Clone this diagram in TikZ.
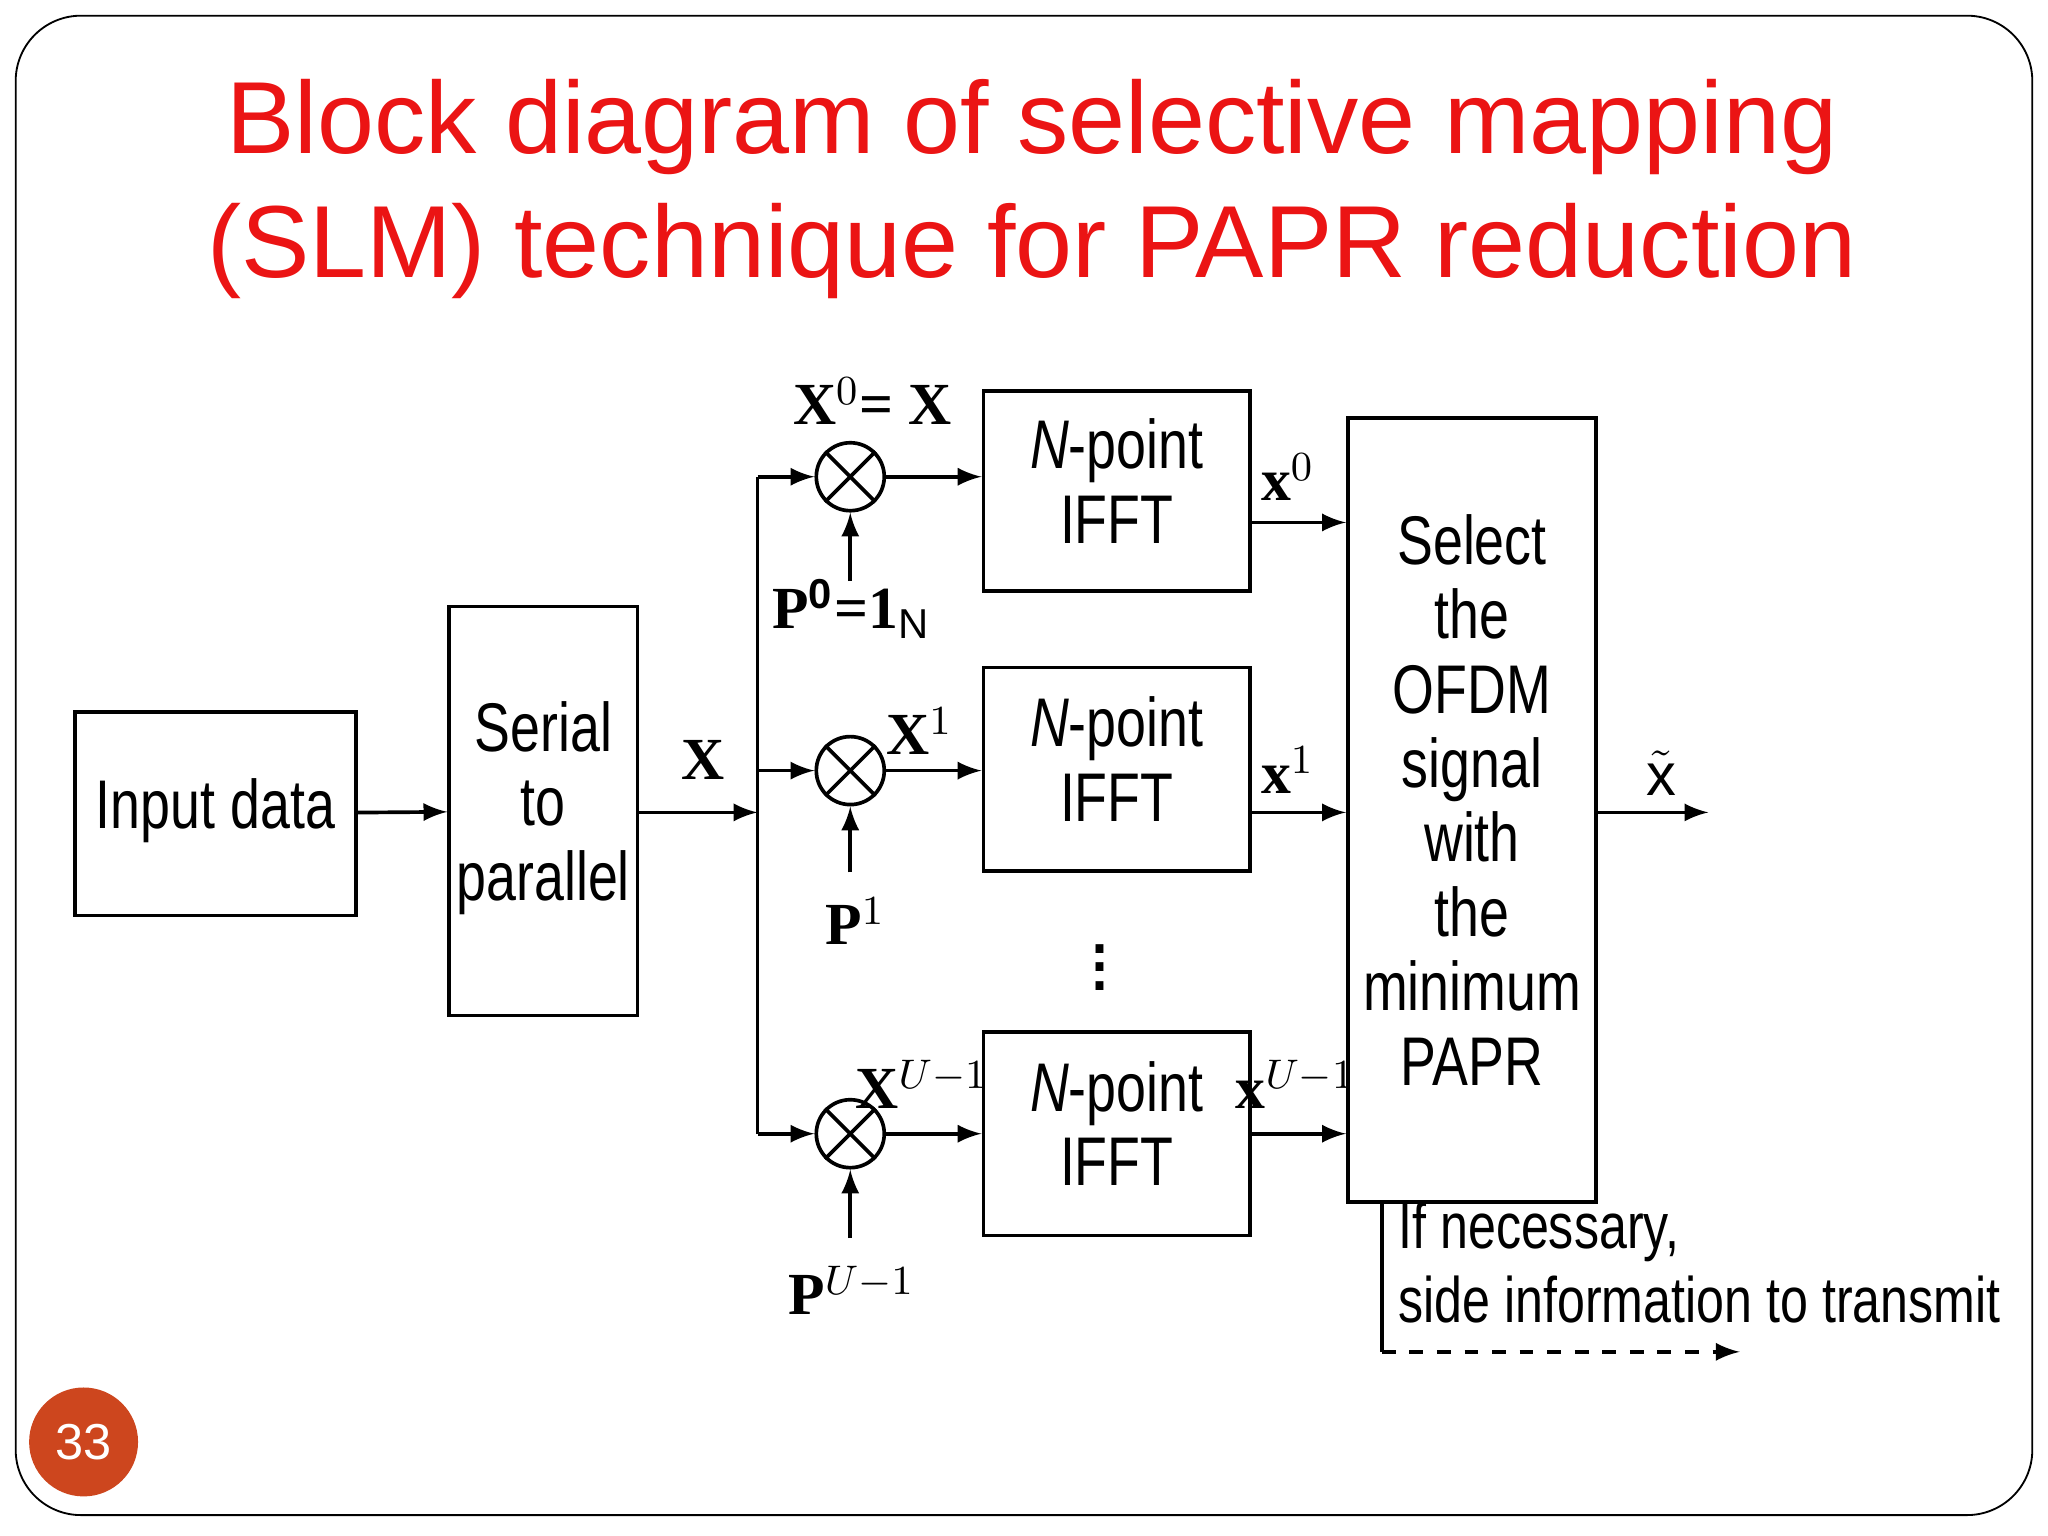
\documentclass[tikz,border=0pt]{standalone}
\usepackage{fontspec}
\setmainfont{Liberation Sans}
\newfontfamily\lblfont{Liberation Serif}
\usetikzlibrary{positioning}
\definecolor{titlered}{RGB}{235,20,20}
\definecolor{pageorange}{RGB}{205,70,30}
\newcommand{\nb}[2][c]{\scalebox{0.78}[1]{\begin{tabular}{@{}#1@{}}#2\end{tabular}}}
\tikzset{
  blk/.style={draw, thick, font=\fontsize{15}{16.2}\selectfont, align=center, inner sep=0pt},
  mult/.style={draw, thick, circle, minimum size=0.52cm, inner sep=0pt},
  sig/.style={font=\lblfont\bfseries\fontsize{13}{15}\selectfont, inner sep=1pt},
  link/.style={draw, thick, -latex},
}
\begin{document}
\begin{tikzpicture}[x=0.01cm, y=-0.01cm]
\useasboundingbox (0,0) rectangle (1568,1176);
\draw[rounded corners=0.5cm] (12,12) rectangle (1556,1160);

% title
\node[text=titlered, font=\fontsize{22.3}{26}\selectfont] (title1) at (790,97) {Block diagram of selective mapping};
\node[text=titlered, font=\fontsize{22.3}{26}\selectfont] (title2) at (790,192) {(SLM) technique for PAPR reduction};

% blocks
\node[blk, minimum width=2.15cm, minimum height=1.56cm] (input) at (165,623) {\nb{Input data}};
\node[blk, minimum width=1.44cm, minimum height=3.13cm] (sp) at (416,621) {\nb{Serial\\to\\parallel}};
\node[blk, minimum width=2.04cm, minimum height=1.53cm] (fft0) at (855,376) {\nb{\textit{N}-point\\IFFT}};
\node[blk, minimum width=2.04cm, minimum height=1.56cm] (fft1) at (855,589) {\nb{\textit{N}-point\\IFFT}};
\node[blk, minimum width=2.04cm, minimum height=1.56cm] (fft2) at (855,868) {\nb{\textit{N}-point\\IFFT}};
\node[blk, minimum width=1.9cm, minimum height=6cm] (sel) at (1127,620) {\nb{Select\\the\\OFDM\\signal\\with\\the\\minimum\\PAPR}};

% multipliers
\foreach \i/\y in {0/365, 1/590, 2/868} {
  \node[mult] (m\i) at (651,\y) {};
  \draw[thick] (m\i.north west) -- (m\i.south east) (m\i.north east) -- (m\i.south west);
}
\coordinate (split) at (580,622);
\coordinate (top) at (580,365);
\coordinate (bot) at (580,868);

\draw[link] (input) -- (sp);
\draw[link] (sp.east |- split) -- (split);
\draw[thick] (top) -- (bot);
\draw[link] (top) -- (m0);
\draw[link] (580,590) -- (m1);
\draw[link] (bot) -- (m2);
\draw[link] (m0) -- (m0 -| fft0.west);
\draw[link] (m1) -- (m1 -| fft1.west);
\draw[link] (m2) -- (m2 -| fft2.west);
\draw[link] (fft0.east |- 0,400) -- (sel.west |- 0,400);
\draw[link] (fft1.east |- 0,622) -- (sel.west |- 0,622);
\draw[link] (fft2.east |- 0,868) -- (sel.west |- 0,868);

% phase vectors
\node[sig] (p0) at (652,466) {P$^{\mathbf 0}$=1$_{\mathrm N}$};
\node[sig] (p1) at (655,705) {P$^{1}$};
\node[sig] (p2) at (652,988) {P$^{U-1}$};
\draw[link] (651,445) -- (m0);
\draw[link] (651,668) -- (m1);
\draw[link] (651,948) -- (m2);

% signal labels
\node[sig] (lx) at (538,582) {X};
\node[sig] (x0) at (668,307) {X$^{0}$= X};
\node[sig] (x1) at (704,560) {X$^{1}$};
\node[sig] (x2) at (706,830) {X$^{U-1}$};
\node[sig] (y0) at (986,365) {x$^{0}$};
\node[sig] (y1) at (986,590) {x$^{1}$};
\node[sig] (y2) at (992,830) {x$^{U-1}$};
\node[sig] (yt) at (1272,592) {$\tilde{\mathrm{x}}$};
\node[font=\fontsize{18}{20}\selectfont] (dots) at (842,730) {$\vdots$};

% output
\coordinate (out) at (1308,622);
\draw[link] (sel.east |- out) -- (out);
\coordinate (side) at (1058,1035);
\coordinate (sideend) at (1332,1035);
\draw[thick] (side |- sel.south) -- (side);
\draw[link, dashed] (side) -- (sideend);
\node[font=\fontsize{14}{16}\selectfont, anchor=south west, inner sep=0pt] (sidetxt) at (1070,1030) {\nb[l]{If necessary,\\side information to transmit}};

% page number
\node[circle, fill=pageorange, minimum size=0.78cm, text=white, font=\fontsize{11}{13}\selectfont] (page) at (64,1104) {33};
\end{tikzpicture}
\end{document}
